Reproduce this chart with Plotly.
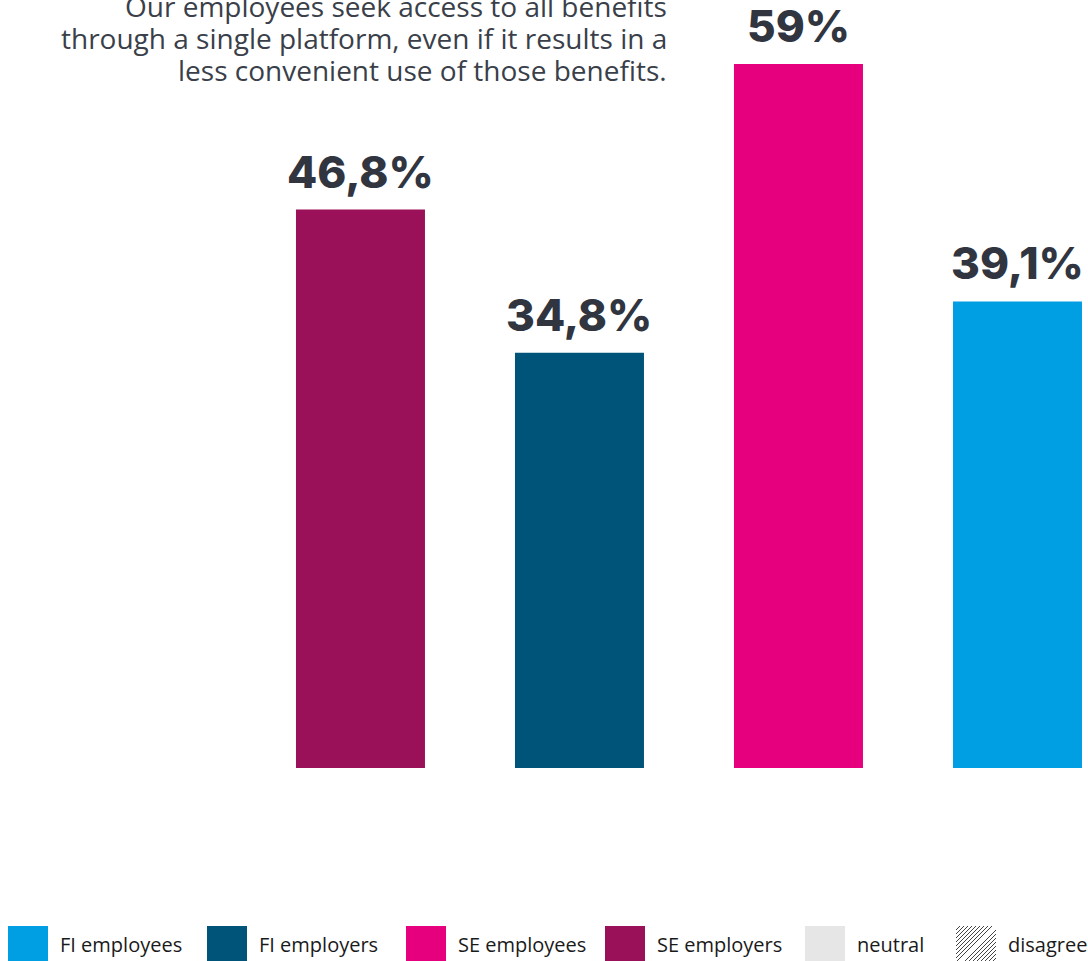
import plotly.graph_objects as go

# Survey result per respondent group (share agreeing, %)
groups = ["SE employers", "FI employers", "SE employees", "FI employees"]
agree_pct = [46.8, 34.8, 59.0, 39.1]
bar_colors = ["#9b1159", "#00547a", "#e6007e", "#009fe3"]

# Legend entries
legend_labels = ["FI employees", "FI employers", "SE employees", "SE employers", "neutral", "disagree"]
legend_colors = ["#009fe3", "#00547a", "#e6007e", "#9b1159", "#e6e6e6", None]

title_lines = [
    "Our employees seek access to all benefits",
    "through a single platform, even if it results in a",
    "less convenient use of those benefits.",
]

W, H = 1088, 961
TEXT_DARK = "#30353f"


def px_x(px):
    return px / W


def px_y(py):
    return 1 - py / H


def pct_label(v):
    return f"{v:g}".replace(".", ",") + "%"


fig = go.Figure()
fig.add_trace(go.Bar(
    x=list(range(len(groups))),
    y=agree_pct,
    width=0.589,
    marker=dict(color=bar_colors, line=dict(width=0)),
    hoverinfo="skip",
    showlegend=False,
))

annotations = []
for i, v in enumerate(agree_pct):
    annotations.append(dict(
        x=i, y=v, xref="x", yref="y", text=pct_label(v), showarrow=False,
        xanchor="center", yanchor="bottom", yshift=9,
        font=dict(family="Inter", size=44, color=TEXT_DARK, weight=800),
    ))

# Right-aligned question text above the bars
for k, line in enumerate(title_lines):
    annotations.append(dict(
        x=px_x(669), y=px_y(6 + 32 * k), xref="paper", yref="paper",
        text=line, showarrow=False, xanchor="right", yanchor="middle",
        font=dict(family="Open Sans", size=28, color="#3a3f4a"),
    ))

# Legend: swatches and labels along the bottom
sw_left = [8, 207, 406, 605, 805, 956]
shapes = []
for k, (lab, col) in enumerate(zip(legend_labels, legend_colors)):
    x0, x1 = sw_left[k], sw_left[k] + 40
    y0, y1 = 926, 963
    if col is not None:
        shapes.append(dict(type="rect", xref="paper", yref="paper",
                           x0=px_x(x0), x1=px_x(x1), y0=px_y(y1), y1=px_y(y0),
                           fillcolor=col, line=dict(width=0), layer="above"))
    else:
        # diagonal hatch drawn line by line inside the swatch
        step = 4
        c = x0 + y0 + step
        while c < x1 + y1:
            # points on x + y = c clipped to the swatch
            pts = []
            for xx in (x0, x1):
                yy = c - xx
                if y0 <= yy <= y1:
                    pts.append((xx, yy))
            for yy in (y0, y1):
                xx = c - yy
                if x0 <= xx <= x1:
                    pts.append((xx, yy))
            if len(pts) >= 2:
                (ax, ay), (bx, by) = pts[0], pts[1]
                shapes.append(dict(type="line", xref="paper", yref="paper",
                                   x0=px_x(ax), y0=px_y(ay), x1=px_x(bx), y1=px_y(by),
                                   line=dict(color="#444444", width=1), layer="above"))
            c += step
    annotations.append(dict(
        x=px_x(x1 + 10), y=px_y(944), xref="paper", yref="paper",
        text=lab, showarrow=False, xanchor="left", yanchor="middle",
        font=dict(family="Open Sans", size=20, color="#1a1a1a"),
    ))

fig.update_layout(
    width=W, height=H,
    margin=dict(l=0, r=0, t=0, b=0, autoexpand=False),
    paper_bgcolor="white", plot_bgcolor="white",
    xaxis=dict(range=[-1.646, 3.322], visible=False, fixedrange=True),
    yaxis=dict(range=[-16.18, 64.37], visible=False, fixedrange=True),
    annotations=annotations,
    shapes=shapes,
    showlegend=False,
)

fig.write_html("out.html")
